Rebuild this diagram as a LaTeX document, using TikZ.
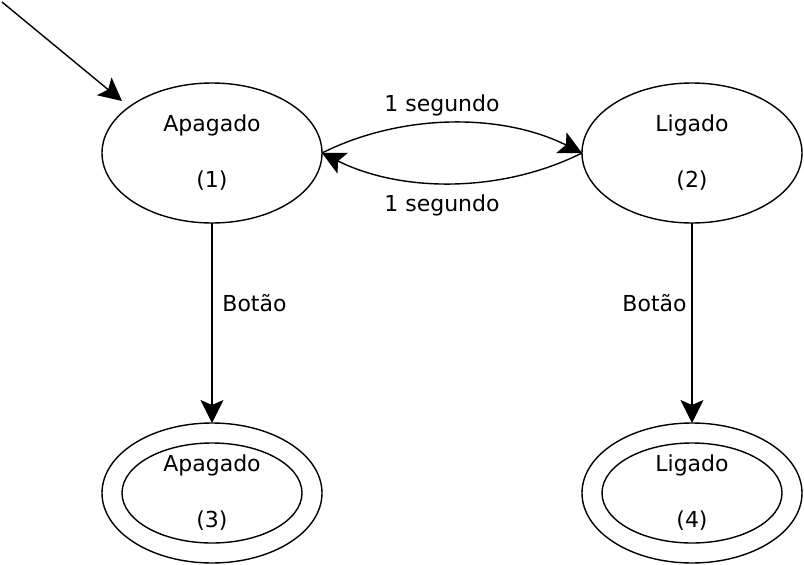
\documentclass[tikz,border=0pt]{standalone}
\usepackage{fontspec}
\setmainfont{DejaVu Sans}
\usetikzlibrary{arrows.meta,shapes.geometric}
\begin{document}
\begin{tikzpicture}[x=1pt,y=-1pt,
  every node/.style={font=\fontsize{22}{28}\selectfont},
  state/.style={ellipse, draw, line width=1.4pt, minimum width=220pt, minimum height=140pt, inner sep=0pt, outer sep=0pt, align=center},
  innerstate/.style={ellipse, draw, line width=1.4pt, minimum width=180pt, minimum height=100pt, inner sep=0pt, outer sep=0pt},
  arr/.style={line width=1.4pt, -{Stealth[length=23pt,width=23pt,inset=5pt]}},
  lbl/.style={inner sep=0pt, anchor=base}]
\useasboundingbox (0,0) rectangle (804,565);
\node[state] (s1) at (212,153) {Apagado\\[28pt](1)};
\node[state] (s2) at (692,153) {Ligado\\[28pt](2)};
\node[state] (s3) at (212,493) {Apagado\\[28pt](3)};
\node[innerstate] (s3in) at (212,493) {};
\node[state] (s4) at (692,493) {Ligado\\[28pt](4)};
\node[innerstate] (s4in) at (692,493) {};
\coordinate (st) at (2,2);
\coordinate (se) at (122,101);
\draw[arr] (st) -- (se);
\draw[arr] (s1.east) .. controls +(80,-40) and +(-80,-40) .. (s2.west);
\draw[arr] (s2.west) .. controls +(-80,40) and +(80,40) .. (s1.east);
\draw[arr] (s1.south) -- (s3.north);
\draw[arr] (s2.south) -- (s4.north);
\node[lbl] (l1) at (442,111) {1 segundo};
\node[lbl] (l2) at (442,211) {1 segundo};
\node[lbl] (b1) at (254.5,311) {Botão};
\node[lbl] (b2) at (654.5,311) {Botão};
\end{tikzpicture}
\end{document}
